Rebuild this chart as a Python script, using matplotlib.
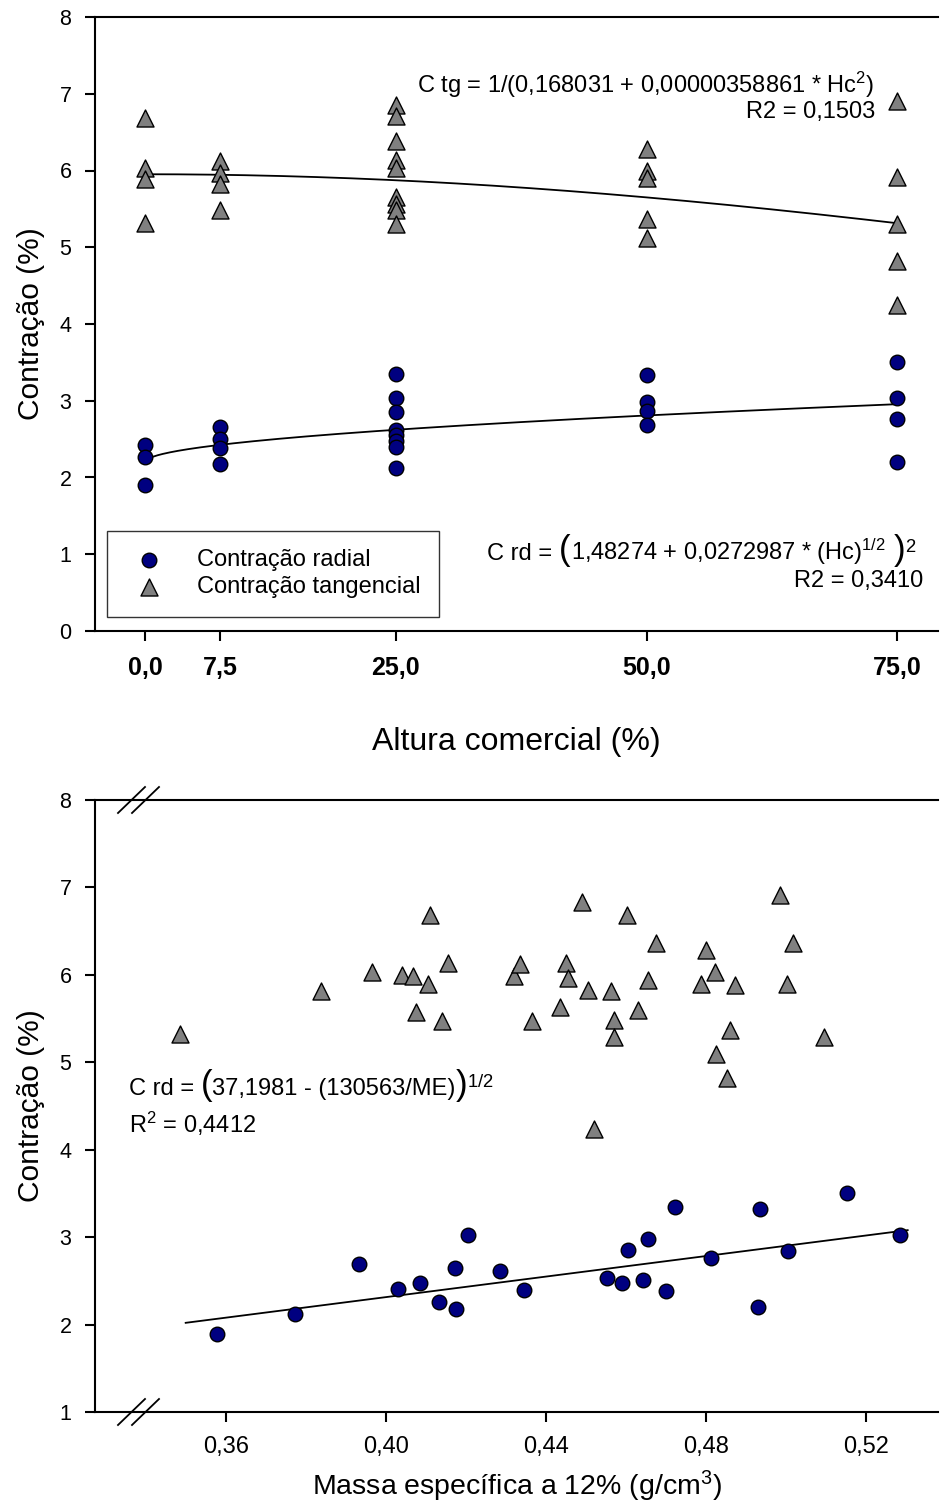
import numpy as np
import matplotlib
matplotlib.use("Agg")
import matplotlib.pyplot as plt
from matplotlib import font_manager
from matplotlib.offsetbox import TextArea, HPacker, AnnotationBbox

# fonts
names = {f.name for f in font_manager.fontManager.ttflist}
base = "Liberation Sans" if "Liberation Sans" in names else "DejaVu Sans"
plt.rcParams["font.family"] = base
plt.rcParams["mathtext.fontset"] = "custom"
plt.rcParams["mathtext.rm"] = base
plt.rcParams["mathtext.it"] = base
plt.rcParams["mathtext.bf"] = base + ":bold"

# ---- data: top chart (Altura comercial) ----
hc_rad = [0, 0, 0,
          7.5, 7.5, 7.5, 7.5,
          25, 25, 25, 25, 25, 25, 25, 25,
          50, 50, 50, 50,
          75, 75, 75, 75]
c_rad = [2.42, 2.27, 1.90,
         2.66, 2.50, 2.38, 2.18,
         3.35, 3.03, 2.85, 2.62, 2.55, 2.47, 2.40, 2.13,
         3.33, 2.99, 2.86, 2.69,
         3.51, 3.03, 2.76, 2.20]
hc_tan = [0, 0, 0, 0,
          7.5, 7.5, 7.5, 7.5,
          25, 25, 25, 25, 25, 25, 25, 25, 25,
          50, 50, 50, 50, 50,
          75, 75, 75, 75, 75]
c_tan = [6.68, 6.03, 5.89, 5.32,
         6.12, 5.97, 5.82, 5.48,
         6.85, 6.71, 6.38, 6.14, 6.03, 5.65, 5.57, 5.48, 5.30,
         6.28, 6.00, 5.90, 5.37, 5.12,
         6.91, 5.91, 5.30, 4.82, 4.25]

# fitted models printed on the chart
tg_a, tg_b = 0.168031, 0.00000358861
rd_a, rd_b = 1.48274, 0.0272987

# ---- data: bottom chart (Massa especifica) ----
me_rad = [0.3579, 0.3774, 0.3934, 0.4030, 0.4086, 0.4134, 0.4176, 0.4173,
          0.4205, 0.4287, 0.4345, 0.4554, 0.4592, 0.4606, 0.4644, 0.4656,
          0.4702, 0.4724, 0.4813, 0.4932, 0.4935, 0.5007, 0.5153, 0.5286]
me_c_rad = [1.89, 2.12, 2.69, 2.41, 2.48, 2.26, 2.18, 2.65,
            3.03, 2.61, 2.40, 2.53, 2.47, 2.85, 2.51, 2.98,
            2.38, 3.35, 2.76, 2.20, 3.32, 2.84, 3.51, 3.02]
me_tan = [0.3486, 0.3838, 0.3967, 0.4042, 0.4068, 0.4105, 0.4111, 0.4155,
          0.4076, 0.4140, 0.4322, 0.4337, 0.4366, 0.4437, 0.4450, 0.4457,
          0.4490, 0.4507, 0.4564, 0.4572, 0.4572, 0.4603, 0.4631, 0.4657,
          0.4676, 0.4521, 0.4788, 0.4800, 0.4823, 0.4827, 0.4854, 0.4861,
          0.4874, 0.4986, 0.5003, 0.5019, 0.5097]
me_c_tan = [5.32, 5.81, 6.03, 6.00, 5.99, 5.89, 6.68, 6.13,
            5.57, 5.47, 5.99, 6.12, 5.47, 5.63, 6.13, 5.96,
            6.83, 5.83, 5.81, 5.48, 5.29, 6.69, 5.60, 5.94,
            6.36, 4.24, 5.90, 6.28, 6.03, 5.10, 4.82, 5.37,
            5.88, 6.91, 5.90, 6.37, 5.29]
fit_me = [0.350, 0.5305]
fit_c = [2.02, 3.08]

top_xticks = [0, 7.5, 25, 50, 75]
top_xlabels = ["0,0", "7,5", "25,0", "50,0", "75,0"]
bot_xticks = [0.36, 0.40, 0.44, 0.48, 0.52]
bot_xlabels = ["0,36", "0,40", "0,44", "0,48", "0,52"]

W, H = 940, 1510
fig = plt.figure(figsize=(W / 100, H / 100), dpi=100)
FS = 17  # annotation font size


def rect(l, t, r, b):
    return [l / W, 1 - b / H, (r - l) / W, (b - t) / H]


circ = dict(marker="o", s=110, facecolor="#000080", edgecolor="black", linewidths=1.0, zorder=3)
tri = dict(marker="^", s=150, facecolor="#808080", edgecolor="black", linewidths=1.0, zorder=3)


def style(ax):
    for side in ["left", "top", "bottom"]:
        ax.spines[side].set_linewidth(1.5)
    ax.spines["right"].set_visible(False)
    ax.tick_params(direction="out", length=7, width=1.5, top=False, right=False)


def pieces(ax, parts, xy, align):
    # parts: list of (text, fontsize) drawn side by side on a common baseline
    kids = [TextArea(t, textprops=dict(fontsize=s, family=base)) for t, s in parts]
    box = HPacker(children=kids, align="baseline", pad=0, sep=0)
    ab = AnnotationBbox(box, xy, xycoords=ax.transAxes, box_alignment=align,
                        frameon=False, pad=0)
    ax.add_artist(ab)


# ---------------- top chart ----------------
ax1 = fig.add_axes(rect(95, 17, 938, 631))
style(ax1)
ax1.scatter(hc_rad, c_rad, label="Contração radial", **circ)
ax1.scatter(hc_tan, c_tan, label="Contração tangencial", **tri)
hh = np.linspace(0, 75, 300)
ax1.plot(hh, 1 / (tg_a + tg_b * hh ** 2), color="black", lw=1.3, zorder=2)
ax1.plot(hh, (rd_a + rd_b * np.sqrt(hh)) ** 2, color="black", lw=1.3, zorder=2)
ax1.set_xlim(-5, 79.06)
ax1.set_ylim(0, 8)
ax1.set_xticks(top_xticks)
ax1.set_xticklabels(top_xlabels, fontsize=18, fontweight="bold")
ax1.set_yticks(range(0, 9))
ax1.tick_params(axis="y", labelsize=15.5, pad=10)
ax1.tick_params(axis="x", pad=11)
ax1.set_ylabel("Contração (%)", fontsize=21.5, labelpad=10)
ax1.set_xlabel("Altura comercial (%)", fontsize=23, labelpad=34)

leg = ax1.legend(loc="lower left", bbox_to_anchor=(0.0142, 0.0228), borderaxespad=0,
                 fontsize=17, frameon=True, fancybox=False, edgecolor="black",
                 handletextpad=1.0, borderpad=0.8, labelspacing=0.2, scatterpoints=1,
                 handlelength=2.0)
leg.get_frame().set_linewidth(1.0)

ax1.text(0.925, 0.889, r"C tg = 1/(0,168031 + 0,00000358861 * Hc$^2$)",
         transform=ax1.transAxes, ha="right", va="center", fontsize=FS)
ax1.text(0.925, 0.846, "R2 = 0,1503", transform=ax1.transAxes, ha="right", va="center", fontsize=FS)
pieces(ax1, [("C rd = ", FS), ("(", 25), (r"1,48274 + 0,0272987 * (Hc)$^{1/2}$  ", FS),
             (")", 25), (r"$^2$", 19)], (0.975, 0.131), (1, 0.5))
ax1.text(0.982, 0.081, "R2 = 0,3410", transform=ax1.transAxes, ha="right", va="center", fontsize=FS)

# ---------------- bottom chart ----------------
ax2 = fig.add_axes(rect(95, 800, 938, 1412))
style(ax2)
ax2.scatter(me_rad, me_c_rad, **circ)
ax2.scatter(me_tan, me_c_tan, **tri)
ax2.plot(fit_me, fit_c, color="black", lw=1.3, zorder=2)
ax2.set_xlim(0.32733, 0.53808)
ax2.set_ylim(1, 8)
ax2.set_xticks(bot_xticks)
ax2.set_xticklabels(bot_xlabels, fontsize=17)
ax2.set_yticks(range(1, 9))
ax2.tick_params(axis="y", labelsize=15.5, pad=10)
ax2.tick_params(axis="x", pad=10)
ax2.set_ylabel("Contração (%)", fontsize=21.5, labelpad=10)
ax2.set_xlabel(r"Massa específica a 12% (g/cm$^3$)", fontsize=20.5, labelpad=8)

pieces(ax2, [("C rd = ", FS), ("(", 25), ("37,1981 - (130563/ME)", FS), (")", 25),
             (r"$^{1/2}$", 19)], (0.040, 0.533), (0, 0.5))
ax2.text(0.040, 0.470, r"R$^2$ = 0,4412", transform=ax2.transAxes, ha="left", va="center", fontsize=FS)

# axis break marks
for yb in [800, 1412]:
    for x0 in [118, 132]:
        fig.add_artist(plt.Line2D([x0 / W, (x0 + 27) / W], [1 - (yb + 13) / H, 1 - (yb - 13) / H],
                                  color="black", lw=1.3))

fig.savefig("out.png", dpi=100)
